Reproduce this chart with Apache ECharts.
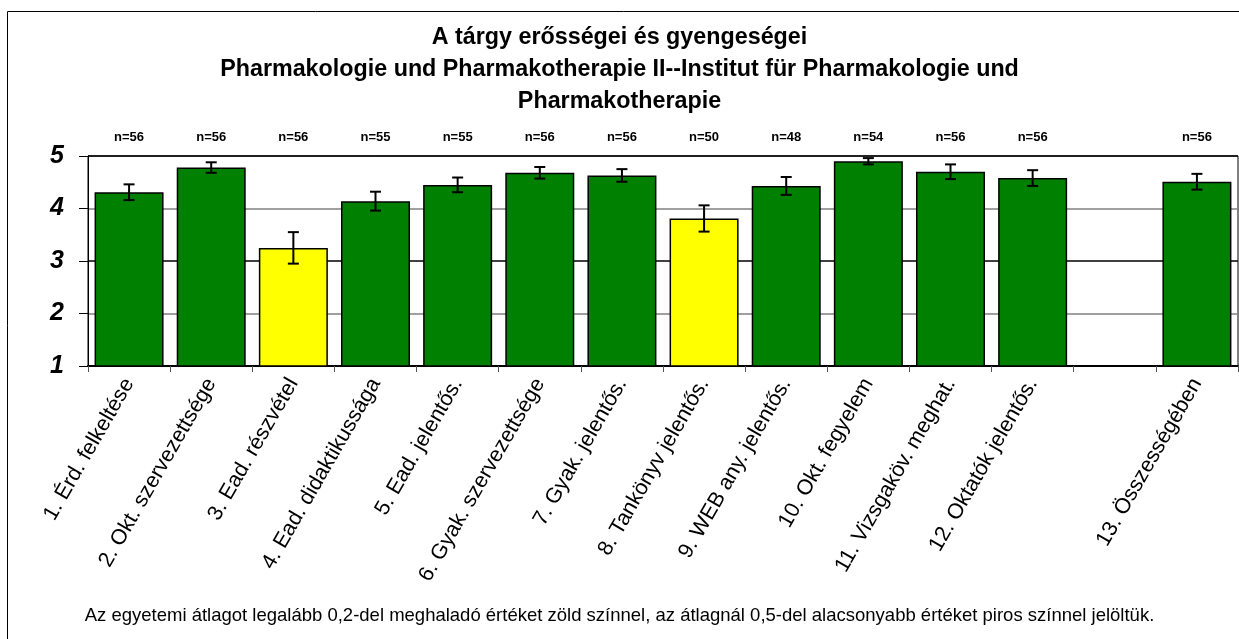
<!DOCTYPE html>
<html>
<head>
<meta charset="utf-8">
<script src="https://cdn.jsdelivr.net/npm/echarts@6/dist/echarts.min.js"></script>
<style>
html, body { margin: 0; padding: 0; background: #fff; }
#chart { width: 1239px; height: 639px; }
</style>
</head>
<body>
<div id="chart"></div>
<script>
// adatok
var categories = ['1. Érd. felkeltése', '2. Okt. szervezettsége', '3. Ead. részvétel', '4. Ead. didaktikussága',
    '5. Ead. jelentős.', '6. Gyak. szervezettsége', '7. Gyak. jelentős.', '8. Tankönyv jelentős.',
    '9. WEB any. jelentős.', '10. Okt. fegyelem', '11. Vizsgaköv. meghat.', '12. Oktatók jelentős.', '', '13. Összességében'];
var means = [4.31, 4.78, 3.25, 4.14, 4.45, 4.68, 4.63, 3.81, 4.43, 4.90, 4.70, 4.58, null, 4.51];
var errors = [0.15, 0.10, 0.30, 0.18, 0.14, 0.11, 0.12, 0.25, 0.17, 0.06, 0.14, 0.15, null, 0.15];
var nLabels = ['n=56', 'n=56', 'n=56', 'n=55', 'n=55', 'n=56', 'n=56', 'n=50', 'n=48', 'n=54', 'n=56', 'n=56', '', 'n=56'];
var yellowItems = [2, 7];
var yTicks = [1, 2, 3, 4, 5];

var chart = echarts.init(document.getElementById('chart'));

var barData = means.map(function (v, i) {
    if (v === null) return null;
    return {
        value: v,
        itemStyle: { color: yellowItems.indexOf(i) >= 0 ? '#ffff00' : '#008000' }
    };
});
var errData = [];
means.forEach(function (v, i) {
    if (v !== null) errData.push([i, v - errors[i], v + errors[i]]);
});

chart.setOption({
    animation: false,
    title: [{
        text: 'A tárgy erősségei és gyengeségei\nPharmakologie und Pharmakotherapie II--Institut für Pharmakologie und\nPharmakotherapie',
        left: 'center',
        top: 17,
        textStyle: {
            fontFamily: 'Liberation Sans, Arial',
            fontSize: 23.3,
            fontWeight: 'bold',
            lineHeight: 32,
            color: '#000'
        }
    }, {
        text: 'Az egyetemi átlagot legalább 0,2-del meghaladó értéket zöld színnel, az átlagnál 0,5-del alacsonyabb értéket piros színnel jelöltük.',
        left: 'center',
        top: 601,
        textStyle: {
            fontFamily: 'Liberation Sans, Arial',
            fontSize: 18.5,
            fontWeight: 'normal',
            color: '#000'
        }
    }],
    graphic: [{
        type: 'polyline',
        shape: { points: [[7.5, 700], [7.5, 11.5], [1300, 11.5]] },
        style: { stroke: '#000', lineWidth: 1, fill: null },
        silent: true
    }],
    grid: {
        left: 88,
        right: 1,
        top: 156,
        bottom: 273,
        show: true,
        borderColor: '#000',
        borderWidth: 1
    },
    xAxis: [{
        type: 'category',
        data: categories,
        axisLine: { lineStyle: { color: '#000', width: 2 } },
        axisTick: { show: true, length: 6, lineStyle: { color: '#555' } },
        axisLabel: {
            interval: 0,
            rotate: 60,
            margin: 14,
            fontFamily: 'Liberation Sans, Arial',
            fontSize: 21.5,
            color: '#000'
        }
    }, {
        type: 'category',
        position: 'top',
        data: nLabels,
        axisLine: { show: false },
        axisTick: { show: false },
        axisLabel: {
            interval: 0,
            margin: 12,
            fontFamily: 'Liberation Sans, Arial',
            fontSize: 13,
            fontWeight: 'bold',
            color: '#000'
        }
    }],
    yAxis: {
        type: 'value',
        min: yTicks[0],
        max: yTicks[yTicks.length - 1],
        interval: 1,
        axisLine: { show: true, lineStyle: { color: '#000' } },
        axisTick: { show: true, length: 9, lineStyle: { color: '#000' } },
        axisLabel: {
            margin: 24,
            fontFamily: 'Liberation Sans, Arial',
            fontSize: 25,
            fontWeight: 'bold',
            fontStyle: 'italic',
            color: '#000'
        },
        splitLine: {
            show: true,
            lineStyle: { color: ['#000', '#808080', '#000', '#808080', '#000'], width: 1.5 }
        }
    },
    series: [{
        type: 'bar',
        data: barData,
        barCategoryGap: '16%',
        itemStyle: { borderColor: '#000', borderWidth: 1.5 }
    }, {
        type: 'custom',
        data: errData,
        encode: { x: 0, y: [1, 2] },
        z: 10,
        renderItem: function (params, api) {
            var x = api.value(0);
            var lo = api.coord([x, api.value(1)]);
            var hi = api.coord([x, api.value(2)]);
            var w = 5.5;
            var st = { stroke: '#000', lineWidth: 2 };
            return {
                type: 'group',
                children: [
                    { type: 'line', shape: { x1: hi[0], y1: hi[1], x2: lo[0], y2: lo[1] }, style: st },
                    { type: 'line', shape: { x1: hi[0] - w, y1: hi[1], x2: hi[0] + w, y2: hi[1] }, style: st },
                    { type: 'line', shape: { x1: lo[0] - w, y1: lo[1], x2: lo[0] + w, y2: lo[1] }, style: st }
                ]
            };
        }
    }]
});
</script>
</body>
</html>
